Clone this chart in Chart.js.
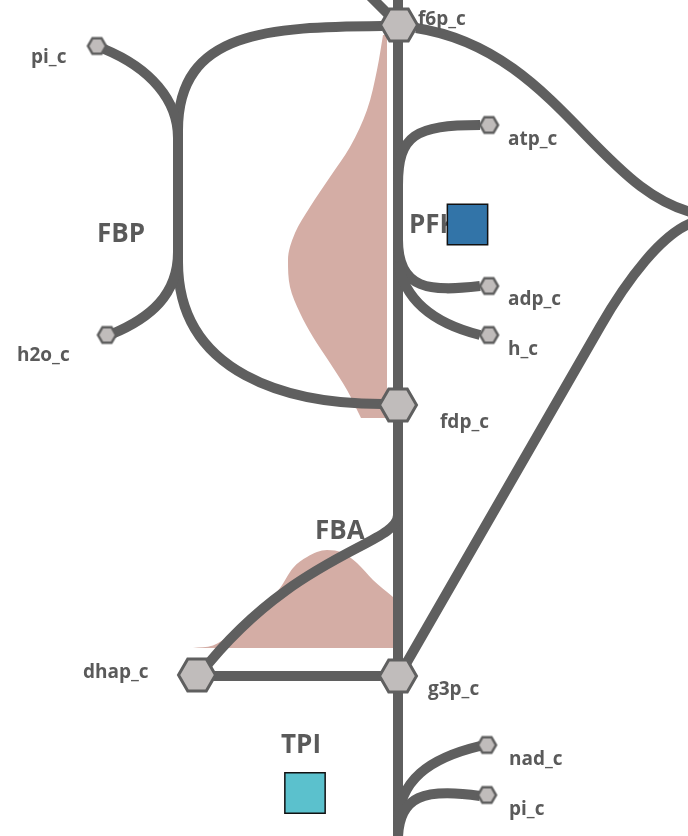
<!DOCTYPE html>
<html><head><meta charset="utf-8">
<script src="https://cdn.jsdelivr.net/npm/chart.js@4.4.1/dist/chart.umd.min.js"></script>
<style>html,body{margin:0;padding:0;background:#fff;overflow:hidden}#wrap{width:688px;height:836px}</style>
</head><body><div id="wrap"><canvas id="c" width="688" height="836"></canvas></div>
<script>
// ---- map data (map units = 0..688 x 0..836) ----
const mainMetNames = ['f6p_c', 'fdp_c', 'g3p_c', 'dhap_c'];
const mainMetX = [399, 398, 398, 197];
const mainMetY = [25, 405, 676, 675];

const sideMetNames = ['pi_c', 'h2o_c', 'atp_c', 'adp_c', 'h_c', 'nad_c', 'pi_c'];
const sideMetX = [97, 107, 489, 489, 489, 487, 487];
const sideMetY = [46, 335, 125, 286, 335, 745, 795];

const metLabelText = ['f6p_c', 'fdp_c', 'g3p_c', 'dhap_c', 'pi_c', 'h2o_c', 'atp_c', 'adp_c', 'h_c', 'nad_c', 'pi_c'];
const metLabelX = [418, 440, 428, 83, 31, 17, 508, 508, 508, 509, 509];
const metLabelY = [25, 428, 695, 678, 63, 361, 145, 305, 355, 765, 815];

const rxnNames = ['FBP', 'PFK', 'FBA', 'TPI'];
const rxnLabelX = [97, 409, 315, 281];
const rxnLabelY = [242, 233, 539, 753];

// reaction markers (squares)
const markerRxn = ['PFK', 'TPI'];
const markerX = [467.5, 305];
const markerY = [224.5, 793];
const markerColors = ['#3274a8', '#5bc1cd'];

// edge paths: first entry moveTo, 2 values = lineTo, 6 values = cubic bezier
const edgePaths = [
  [[398, -12], [398, 850]],                                              // PFK / main vertical
  [[362, -12], [399, 25]],                                               // upstream into f6p
  [[382, 26], [270, 27, 178, 30, 178, 130], [178, 262], [178, 375, 290, 404, 382, 404]], // FBP
  [[178, 138], [178, 100, 150, 68, 104, 49]],                            // FBP pi_c
  [[178, 252], [178, 295, 150, 318, 112, 334]],                          // FBP h2o_c
  [[398, 185], [398, 135, 415, 125, 480, 125]],                          // PFK atp_c
  [[398, 240], [398, 290, 430, 292, 480, 286]],                          // PFK adp_c
  [[398, 262], [405, 305, 440, 325, 480, 335]],                          // PFK h_c
  [[416, 28], [560, 50, 600, 200, 705, 215]],                            // f6p right
  [[705, 220], [665, 222, 620, 292, 600, 327], [399, 676]],              // into g3p
  [[398, 515], [398, 545, 295, 552, 200, 674]],                          // FBA dhap
  [[198, 676], [398, 676]],                                              // TPI
  [[398, 825], [398, 780, 430, 758, 480, 746]],                          // nad_c
  [[398, 840], [398, 795, 425, 788, 480, 796]]                           // pi_c
];

// flux distributions (densities)
const pfkDensityY = [35, 70, 110, 147, 177, 207, 233, 260, 287, 313, 337, 363, 390, 418];
const pfkDensityW = [4, 10, 20, 37, 57, 77, 92, 99, 97, 87, 74, 57, 40, 26];
const pfkDensityBase = 387;

const fbaDensityX = [193, 213, 230, 247, 263, 280, 293, 307, 327, 343, 357, 373, 393];
const fbaDensityH = [0, 2.5, 13, 28, 42, 60, 80, 91, 98, 95, 85, 68, 51];
const fbaDensityBase = 648;

// ---- styles ----
const edgeColor = '#5f5f5f';
const labelColor = '#5a5a5a';
const densityColor = '#d4ada5';

function makeHex(R, lw) {
  const s = Math.ceil(2 * R + lw + 2);
  const c = document.createElement('canvas');
  c.width = s; c.height = s;
  const g = c.getContext('2d');
  g.beginPath();
  for (let i = 0; i < 6; i++) {
    const a = Math.PI / 3 * i;
    const px = s / 2 + R * Math.cos(a), py = s / 2 + R * Math.sin(a);
    if (i === 0) g.moveTo(px, py); else g.lineTo(px, py);
  }
  g.closePath();
  g.fillStyle = '#c0bcbb';
  g.fill();
  g.lineWidth = lw;
  g.strokeStyle = edgeColor;
  g.stroke();
  return c;
}
const bigHex = makeHex(18.5, 3);
const smallHex = makeHex(9, 2.5);

const mapPlugin = {
  id: 'mapDraw',
  afterDatasetDraw(chart, args) {
    if (args.index !== 3) return;
    const ctx = chart.ctx, xs = chart.scales.x, ys = chart.scales.y;
    const px = v => xs.getPixelForValue(v), py = v => ys.getPixelForValue(v);
    ctx.save();
    ctx.strokeStyle = edgeColor;
    ctx.lineWidth = 10;
    ctx.lineCap = 'butt';
    ctx.lineJoin = 'round';
    edgePaths.forEach(path => {
      ctx.beginPath();
      path.forEach((s, i) => {
        if (i === 0) ctx.moveTo(px(s[0]), py(s[1]));
        else if (s.length === 2) ctx.lineTo(px(s[0]), py(s[1]));
        else ctx.bezierCurveTo(px(s[0]), py(s[1]), px(s[2]), py(s[3]), px(s[4]), py(s[5]));
      });
      ctx.stroke();
    });
    ctx.fillStyle = labelColor;
    ctx.textAlign = 'left';
    ctx.textBaseline = 'alphabetic';
    ctx.font = '700 19px "Open Sans"';
    metLabelText.forEach((t, i) => ctx.fillText(t, px(metLabelX[i]), py(metLabelY[i])));
    ctx.font = '700 26px "Open Sans"';
    rxnNames.forEach((t, i) => ctx.fillText(t, px(rxnLabelX[i]), py(rxnLabelY[i])));
    ctx.restore();
  }
};

const datasets = [
  {
    label: 'markers', order: 0, showLine: false,
    data: markerRxn.map((r, i) => ({x: markerX[i], y: markerY[i]})),
    pointStyle: 'rect', pointRadius: 28.5, pointHoverRadius: 28.5,
    pointBackgroundColor: markerColors, pointBorderColor: '#111', pointBorderWidth: 1.5
  },
  {
    label: 'main metabolites', order: 1, showLine: false,
    data: mainMetNames.map((n, i) => ({x: mainMetX[i], y: mainMetY[i]})),
    pointStyle: bigHex, pointRadius: 18
  },
  {
    label: 'side metabolites', order: 2, showLine: false,
    data: sideMetNames.map((n, i) => ({x: sideMetX[i], y: sideMetY[i]})),
    pointStyle: smallHex, pointRadius: 9
  },
  {
    label: 'FBA flux', order: 3, showLine: true,
    data: fbaDensityX.map((x, i) => ({x: x, y: fbaDensityBase - fbaDensityH[i]})),
    borderWidth: 0, borderColor: 'rgba(0,0,0,0)', backgroundColor: densityColor,
    pointRadius: 0, cubicInterpolationMode: 'monotone', fill: {value: fbaDensityBase}
  },
  {
    label: 'PFK flux', order: 4, showLine: true, indexAxis: 'y',
    data: pfkDensityY.map((y, i) => ({x: pfkDensityBase - pfkDensityW[i], y: y})),
    borderWidth: 0, borderColor: 'rgba(0,0,0,0)', backgroundColor: densityColor,
    pointRadius: 0, cubicInterpolationMode: 'monotone', fill: {value: pfkDensityBase}
  }
];

new Chart(document.getElementById('c'), {
  type: 'line',
  data: {datasets},
  options: {
    responsive: false,
    animation: false,
    events: [],
    layout: {padding: 0, autoPadding: false},
    plugins: {legend: {display: false}, tooltip: {enabled: false}},
    scales: {
      x: {type: 'linear', min: 0, max: 688, display: false},
      y: {type: 'linear', min: 0, max: 836, reverse: true, display: false}
    }
  },
  plugins: [mapPlugin]
});
</script></body></html>
